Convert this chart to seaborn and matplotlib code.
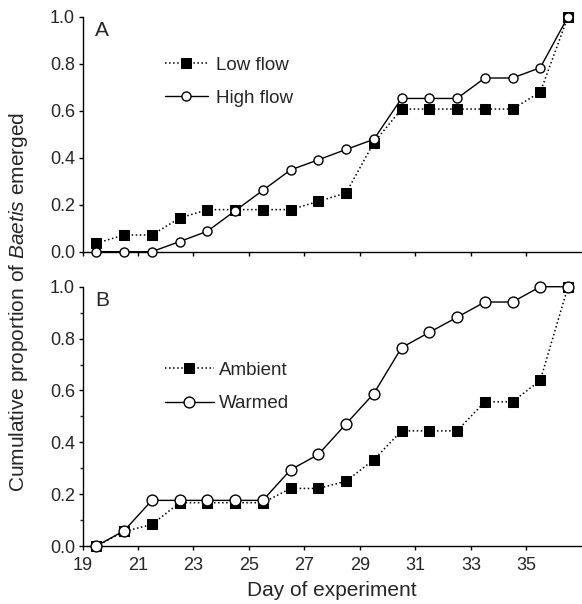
import numpy as np
import matplotlib
matplotlib.use("Agg")
import matplotlib.pyplot as plt
import seaborn as sns

# ── Data ──────────────────────────────────────────────────────────────────────
days = [19.5, 20.5, 21.5, 22.5, 23.5, 24.5, 25.5, 26.5, 27.5,
        28.5, 29.5, 30.5, 31.5, 32.5, 33.5, 34.5, 35.5, 36.5]

# panel A (cumulative proportion emerged)
low_flow  = [0.036, 0.071, 0.071, 0.143, 0.179, 0.179, 0.179, 0.179, 0.214,
             0.250, 0.464, 0.607, 0.607, 0.607, 0.607, 0.607, 0.679, 1.000]
high_flow = [0.000, 0.000, 0.000, 0.043, 0.087, 0.174, 0.261, 0.348, 0.391,
             0.435, 0.478, 0.652, 0.652, 0.652, 0.739, 0.739, 0.783, 1.000]

# panel B
ambient = [0.000, 0.056, 0.083, 0.167, 0.167, 0.167, 0.167, 0.222, 0.222,
           0.250, 0.333, 0.444, 0.444, 0.444, 0.556, 0.556, 0.639, 1.000]
warmed  = [0.000, 0.059, 0.176, 0.176, 0.176, 0.176, 0.176, 0.294, 0.353,
           0.471, 0.588, 0.765, 0.824, 0.882, 0.941, 0.941, 1.000, 1.000]

x_ticks = [19, 21, 23, 25, 27, 29, 31, 33, 35]
y_ticks = [0.0, 0.2, 0.4, 0.6, 0.8, 1.0]

# ── Style ─────────────────────────────────────────────────────────────────────
sns.set_style("ticks")
plt.rcParams["font.family"] = ["Liberation Sans", "DejaVu Sans"]
plt.rcParams["mathtext.fontset"] = "custom"
plt.rcParams["mathtext.rm"] = "Liberation Sans"
plt.rcParams["mathtext.it"] = "Liberation Sans:italic"

fig = plt.figure(figsize=(5.82, 6.04), dpi=100)
ax_a = fig.add_axes([0.1418, 0.5833, 0.858, 0.3891])
ax_b = fig.add_axes([0.1418, 0.0960, 0.858, 0.4293])


def draw_panel(ax, sq_vals, ci_vals, sq_label, ci_label, ms):
    sns.lineplot(x=days, y=sq_vals, ax=ax, color="black", linestyle=":",
                 linewidth=1.1, marker="s", markersize=ms,
                 markerfacecolor="black", markeredgecolor="black",
                 label=sq_label, clip_on=False, zorder=3)
    sns.lineplot(x=days, y=ci_vals, ax=ax, color="black", linestyle="-",
                 linewidth=1.0, marker="o", markersize=ms,
                 markerfacecolor="white", markeredgecolor="black",
                 markeredgewidth=1.0, label=ci_label, clip_on=False, zorder=4)
    ax.set_xlim(19, 37)
    ax.set_ylim(0, 1)
    ax.set_xticks(x_ticks)
    ax.set_yticks(y_ticks)
    ax.set_yticklabels([f"{v:.1f}" for v in y_ticks])
    ax.tick_params(axis="both", direction="out", length=3, width=1,
                   labelsize=13, pad=2.5, color="black")
    ax.tick_params(axis="x", pad=5)
    for side in ("top", "right"):
        ax.spines[side].set_visible(False)
    for side in ("left", "bottom"):
        ax.spines[side].set_linewidth(1.0)
        ax.spines[side].set_color("black")
    ax.set_xlabel("")
    ax.set_ylabel("")


draw_panel(ax_a, low_flow, high_flow, "Low flow", "High flow", 6.5)
draw_panel(ax_b, ambient, warmed, "Ambient", "Warmed", 7.8)

ax_a.tick_params(axis="x", labelbottom=False)
ax_b.set_yticks(np.arange(0.1, 1.0, 0.2), minor=True)
ax_b.tick_params(axis="y", which="minor", direction="out", length=2.5, width=1)

ax_a.legend(loc="upper left", bbox_to_anchor=(0.165, 0.83), frameon=False,
            fontsize=13.5, handlelength=2.3, handletextpad=0.45,
            labelspacing=0.85, borderpad=0, borderaxespad=0, numpoints=1)
ax_b.legend(loc="upper left", bbox_to_anchor=(0.165, 0.71), frameon=False,
            fontsize=13.5, handlelength=2.6, handletextpad=0.3,
            labelspacing=0.85, borderpad=0, borderaxespad=0, numpoints=1)

ax_a.text(0.024, 0.94, "A", transform=ax_a.transAxes, fontsize=15,
          ha="left", va="center")
ax_b.text(0.026, 0.945, "B", transform=ax_b.transAxes, fontsize=15,
          ha="left", va="center")

ax_b.set_xlabel("Day of experiment", fontsize=15, labelpad=5)
fig.text(0.031, 0.5, r"Cumulative proportion of $\it{Baetis}$ emerged",
         rotation=90, fontsize=15, ha="center", va="center")

fig.savefig("out.png", dpi=100)
